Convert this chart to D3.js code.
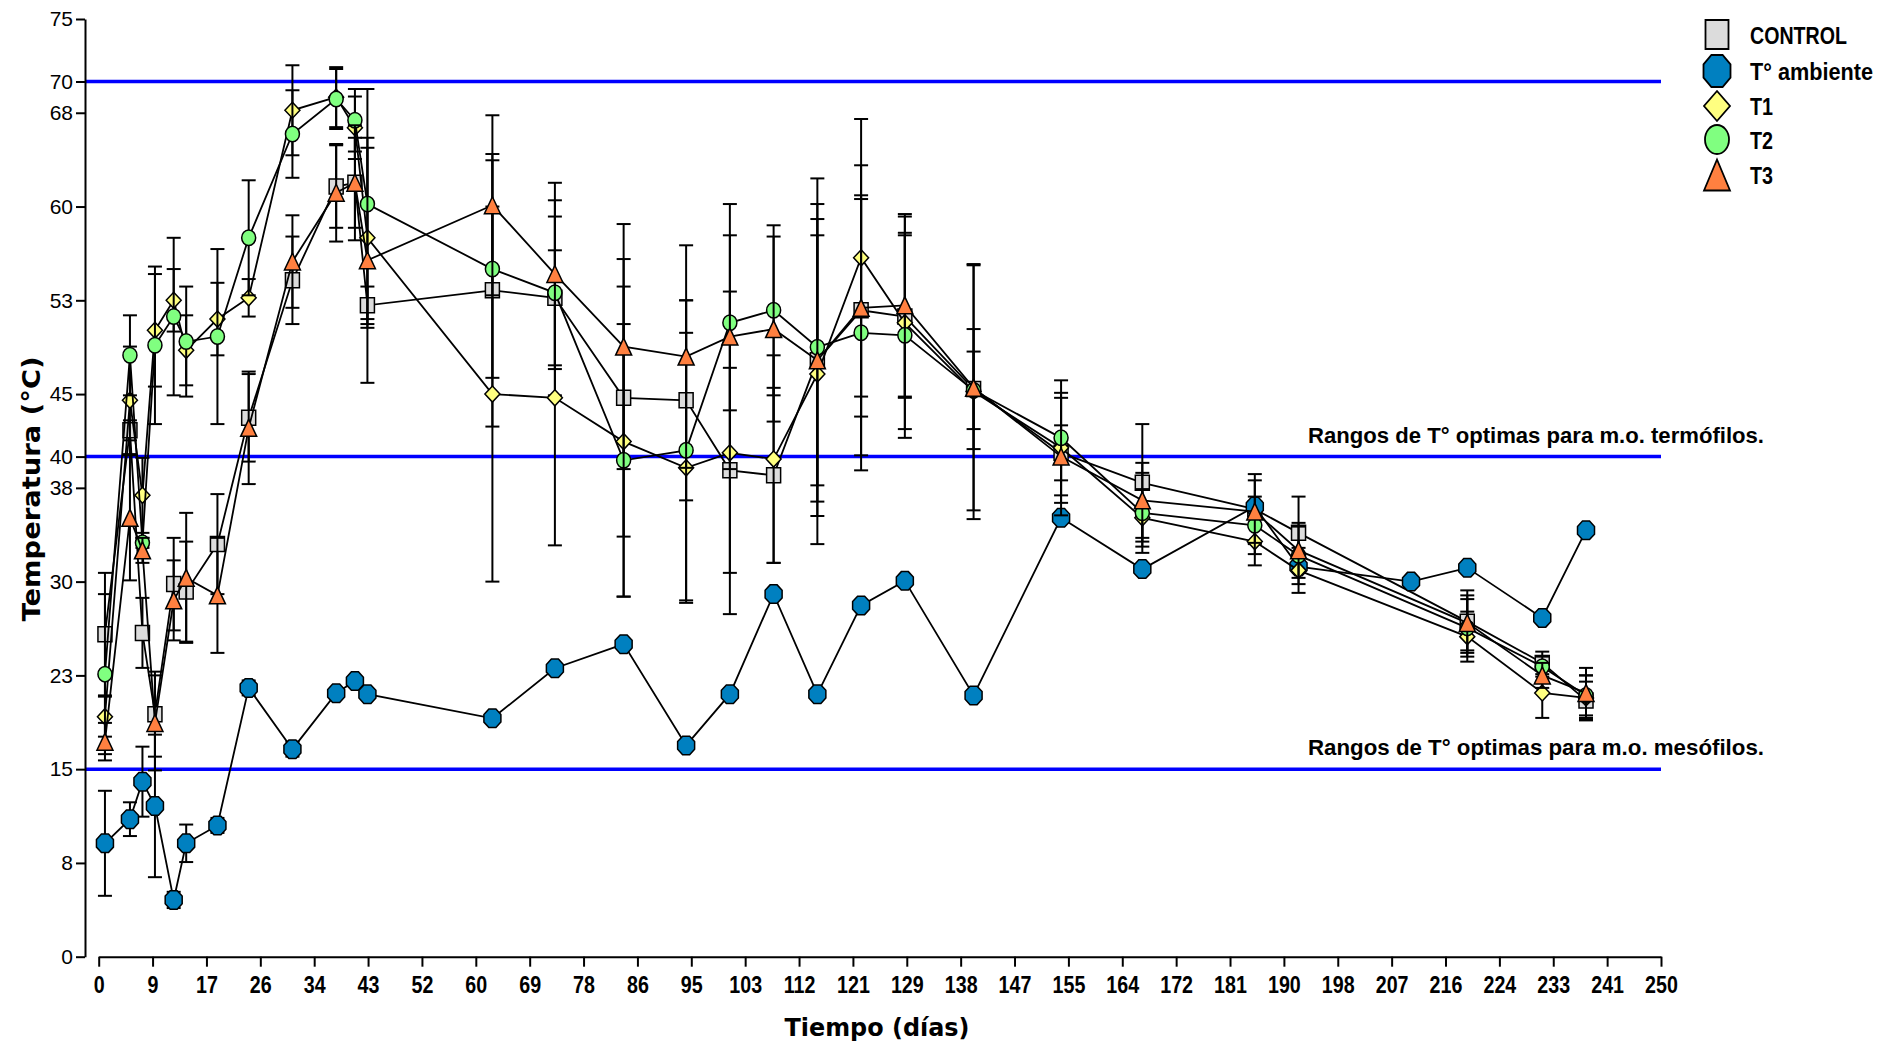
<!DOCTYPE html>
<html><head><meta charset="utf-8">
<script src="https://cdn.jsdelivr.net/npm/d3@7"></script>
<style>body{margin:0;background:#fff} svg{display:block}</style>
</head><body>
<svg id="chart" width="1888" height="1045"></svg>
<script>
// ---- DATA ----
const days = [1,5,7,9,12,14,19,24,31,38,41,43,63,73,84,94,101,108,115,122,129,140,154,167,185,192,219,231,238];
const ambientDays = [1,5,7,9,12,14,19,24,31,38,41,43,63,73,84,94,101,108,115,122,129,140,154,167,185,192,210,219,231,238];

const controlValues = [25.8,42.1,25.9,19.4,29.8,29.2,33.0,43.1,54.1,61.6,61.9,52.1,53.3,52.7,44.7,44.5,38.9,38.5,47.7,51.7,51.2,45.4,40.3,37.9,35.8,33.9,26.8,23.5,20.5];
const controlSD     = [4.9,0.8,2.8,3.4,3.7,4.0,4.0,3.5,3.5,3.3,3.6,1.5,10.9,7.8,11.1,8.0,8.2,7.0,10.0,11.6,6.5,4.8,2.2,4.7,2.8,2.9,2.5,0.9,1.5];

const ambientValues = [9.07,11.0,14.0,12.06,4.54,9.07,10.5,21.5,16.6,21.07,22.05,21.0,19.07,23.07,25.0,16.9,21.0,29.0,21.0,28.1,30.06,20.9,35.1,31.0,36.0,31.2,30.0,31.1,27.1,34.1];
const ambientSD     = [4.2,1.35,2.8,5.7,0.65,1.5,0.6,0.6,0.6,0,0,0,0,0,0,0,0,0,0,0,0,0,0,0,0,0,0,0,0,0];

const t1Values = [19.2,44.5,36.9,50.1,52.5,48.5,51.0,52.7,67.7,68.75,66.3,57.5,45.0,44.7,41.2,39.1,40.3,39.8,46.6,55.9,50.7,45.2,40.7,35.1,33.2,30.9,25.6,21.1,20.7];
const t1SD     = [1.6,4.3,3.0,4.5,2.5,2.8,2.9,1.5,3.6,2.4,2.5,7.2,15.0,11.8,12.4,10.8,12.9,8.3,13.6,11.1,8.5,10.2,4.4,2.3,1.9,1.8,2.0,2.0,1.8];

const t2Values = [22.6,48.1,33.1,48.9,51.2,49.2,49.6,57.5,65.8,68.6,66.9,60.2,55.0,53.1,39.7,40.5,50.7,51.7,48.75,49.9,49.7,45.3,41.5,35.5,34.5,32.1,26.3,23.2,20.9];
const t2SD     = [6.4,3.2,0.4,6.3,6.3,4.4,7.0,4.6,3.5,2.4,2.5,9.2,8.7,6.1,10.9,12.0,7.0,6.8,13.5,11.0,8.2,3.1,4.6,3.2,2.3,2.3,2.3,0.8,1.6];

const t3Values = [17.2,35.1,32.5,18.7,28.5,30.3,28.9,42.3,55.6,61.1,61.9,55.7,60.1,54.6,48.8,48.0,49.6,50.2,47.7,51.9,52.1,45.5,40.0,36.5,35.6,32.5,26.7,22.5,21.1];
const t3SD     = [1.5,5.0,1.0,3.8,3.2,5.2,4.6,4.5,3.7,3.9,4.6,9.8,7.2,7.3,9.8,8.9,10.6,7.4,11.3,8.7,7.3,9.8,4.7,3.0,2.5,2.2,2.2,1.0,2.0];

const xTickLabels = ["0","9","17","26","34","43","52","60","69","78","86","95","103","112","121","129","138","147","155","164","172","181","190","198","207","216","224","233","241","250"];
const yTickValues = [0,7.5,15,22.5,30,37.5,40,45,52.5,60,67.5,70,75];
const yTickLabels = ["0","8","15","23","30","38","40","45","53","60","68","70","75"];

const refLines = [70,40,15];
const refTexts = [
  {v:40, text:"Rangos de T° optimas para m.o. termófilos."},
  {v:15, text:"Rangos de T° optimas para m.o. mesófilos."}
];

const seriesNames  = ["CONTROL","T° ambiente","T1","T2","T3"];
const seriesShapes = ["square","octagon","diamond","circle","triangle"];
const seriesFills  = ["#dcdcdc","#0080c0","#ffff80","#80ff80","#ff8040"];

// ---- BUILD ----
const series = [
  {days:days, values:controlValues, sd:controlSD, size:[14,15]},
  {days:ambientDays, values:ambientValues, sd:ambientSD, size:[17,18.5]},
  {days:days, values:t1Values, sd:t1SD, size:[15,16]},
  {days:days, values:t2Values, sd:t2SD, size:[14,15.5]},
  {days:days, values:t3Values, sd:t3SD, size:[16,17]}
].map((s,i)=>Object.assign(s,{name:seriesNames[i], shape:seriesShapes[i], fill:seriesFills[i]}));
const legendSizes = [[23,29],[27,32],[26,30],[24,29],[26,31]];
const legendTextWidths = [97,123,23,23,23];

const svg = d3.select("#chart");
const x = d3.scaleLinear().domain([0,250]).range([98.7,1661]);
const y = d3.scaleLinear().domain([0,75]).range([956.7,19]);

const sans = "'Liberation Sans',Arial,sans-serif";

function shapePath(shape,w,h){
  const hw=w/2, hh=h/2;
  switch(shape){
    case "square": return `M${-hw},${-hh}H${hw}V${hh}H${-hw}Z`;
    case "diamond": return `M0,${-hh}L${hw},0L0,${hh}L${-hw},0Z`;
    case "triangle": return `M0,${-hh}L${hw},${hh}L${-hw},${hh}Z`;
    case "circle": return `M${-hw},0A${hw},${hh} 0 1,0 ${hw},0A${hw},${hh} 0 1,0 ${-hw},0Z`;
    case "octagon": {
      const c = Math.cos(Math.PI/8); let p=[];
      for(let k=0;k<8;k++){const a=Math.PI/8+k*Math.PI/4; p.push([hw*Math.cos(a)/c, hh*Math.sin(a)/c]);}
      return "M"+p.map(q=>q[0].toFixed(2)+","+q[1].toFixed(2)).join("L")+"Z";
    }
  }
}

// reference lines
svg.append("g").selectAll("line").data(refLines).join("line")
  .attr("x1",85).attr("x2",x(250)).attr("y1",d=>y(d)).attr("y2",d=>y(d))
  .attr("stroke","#0000ff").attr("stroke-width",3.5);
svg.append("g").selectAll("text").data(refTexts).join("text")
  .attr("x",1764).attr("y",d=>y(d.v)-14).attr("text-anchor","end")
  .attr("font-family",sans).attr("font-weight","bold").attr("font-size",22)
  .attr("textLength",456).attr("lengthAdjust","spacingAndGlyphs")
  .text(d=>d.text);

// axes
const yAxis = d3.axisLeft(y).tickValues(yTickValues).tickFormat((d,i)=>yTickLabels[i]).tickSize(9).tickSizeOuter(0).tickPadding(3);
const gy = svg.append("g").attr("transform","translate(85,0)").call(yAxis);
gy.selectAll("path,line").attr("stroke","#000").attr("stroke-width",2);
gy.selectAll("text").attr("font-family",sans).attr("font-size",21).attr("fill","#000");

const xAxis = d3.axisBottom(x).tickValues(xTickLabels.map((_,i)=>i*250/29)).tickFormat((d,i)=>xTickLabels[i]).tickSize(10).tickSizeOuter(0).tickPadding(9);
const gx = svg.append("g").attr("transform","translate(0,956.7)").call(xAxis);
gx.selectAll("path,line").attr("stroke","#000").attr("stroke-width",2);
gx.selectAll("text").attr("font-family",sans).attr("font-weight","bold").attr("font-size",24).attr("fill","#000")
  .attr("transform","scale(0.82,1)");

// titles
svg.append("text").attr("transform","translate(40,489) rotate(-90)").attr("text-anchor","middle")
  .attr("font-family","'DejaVu Sans',Arial,sans-serif").attr("font-weight",900).attr("font-size",25)
  .attr("textLength",265).attr("lengthAdjust","spacingAndGlyphs").text("Temperatura (°C)");
svg.append("text").attr("x",877).attr("y",1036).attr("text-anchor","middle")
  .attr("font-family","'DejaVu Sans',Arial,sans-serif").attr("font-weight",900).attr("font-size",25)
  .attr("textLength",185).attr("lengthAdjust","spacingAndGlyphs").text("Tiempo (días)");

// series
const line = d3.line().x(d=>x(d[0])).y(d=>y(d[1]));
series.forEach(s=>{
  const pts = s.days.map((d,i)=>({d:d, v:s.values[i], sd:s.sd[i]}));
  const g = svg.append("g");
  const eb = g.append("g").attr("stroke","#000").attr("stroke-width",2);
  pts.filter(p=>p.sd>0).forEach(p=>{
    const cx=x(p.d), y1=y(p.v+p.sd), y2=y(p.v-p.sd);
    eb.append("line").attr("x1",cx).attr("x2",cx).attr("y1",y1).attr("y2",y2);
    eb.append("line").attr("x1",cx-7).attr("x2",cx+7).attr("y1",y1).attr("y2",y1);
    eb.append("line").attr("x1",cx-7).attr("x2",cx+7).attr("y1",y2).attr("y2",y2);
  });
  g.append("path").attr("d",line(pts.map(p=>[p.d,p.v]))).attr("fill","none").attr("stroke","#000").attr("stroke-width",1.8);
  g.selectAll("path.m").data(pts).join("path").attr("class","m")
    .attr("transform",p=>`translate(${x(p.d)},${y(p.v)})`)
    .attr("d",shapePath(s.shape,s.size[0],s.size[1]))
    .attr("fill",s.fill).attr("stroke","#000").attr("stroke-width",1.5);
});

// legend
const legY = [34.5,71,106,139.5,175];
const lg = svg.append("g");
series.forEach((s,i)=>{
  lg.append("path").attr("transform",`translate(1717,${legY[i]})`)
    .attr("d",shapePath(s.shape,legendSizes[i][0],legendSizes[i][1]))
    .attr("fill",s.fill).attr("stroke","#000").attr("stroke-width",1.8);
  lg.append("text").attr("x",1750).attr("y",legY[i]+9)
    .attr("font-family",sans).attr("font-weight","bold").attr("font-size",23).attr("fill","#000")
    .attr("textLength",legendTextWidths[i]).attr("lengthAdjust","spacingAndGlyphs")
    .text(s.name);
});
</script>
</body></html>
